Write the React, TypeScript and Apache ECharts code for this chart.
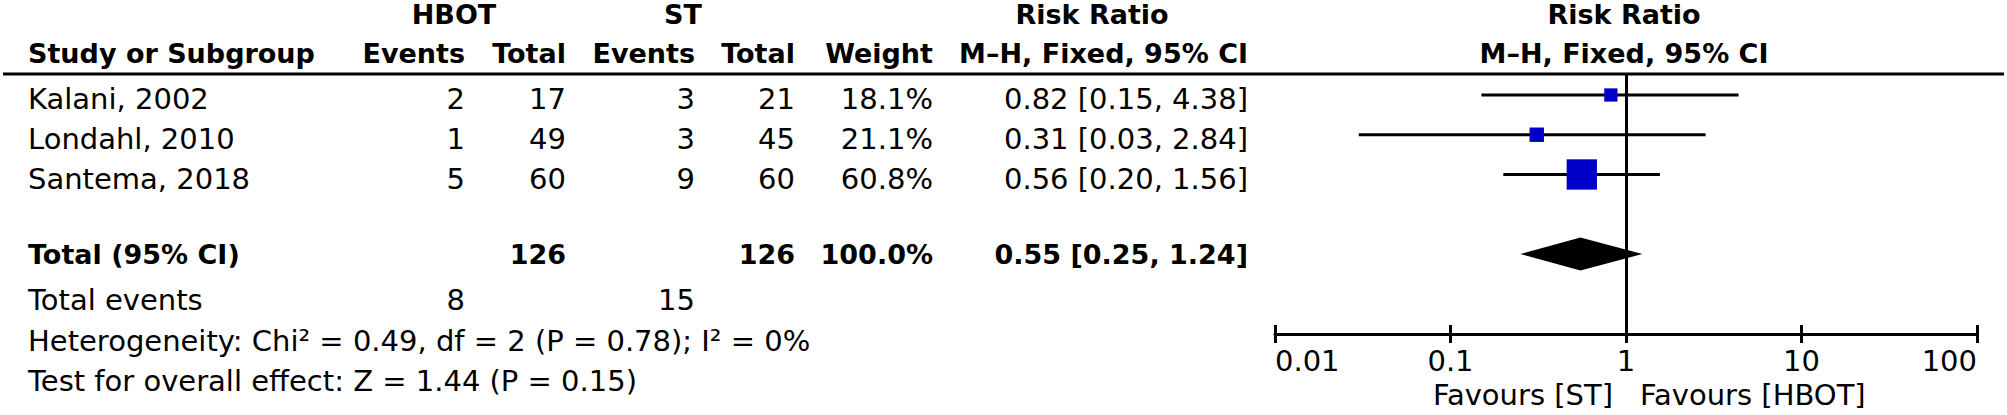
import React, { useEffect, useRef } from 'react';
import * as echarts from 'echarts';

// ---------- data ----------
const studies = ['Kalani, 2002', 'Londahl, 2010', 'Santema, 2018'];
const hbotEvents = [2, 1, 5];
const hbotTotals = [17, 49, 60];
const stEvents = [3, 3, 9];
const stTotals = [21, 45, 60];
const weights = [18.1, 21.1, 60.8];
const riskRatios = [0.82, 0.31, 0.56];
const ciLower = [0.15, 0.03, 0.2];
const ciUpper = [4.38, 2.84, 1.56];

const totalLabel = 'Total (95% CI)';
const pooled = [0.55, 0.25, 1.24]; // RR, lower, upper
const totalHbot = 126;
const totalSt = 126;
const totalWeight = 100.0;
const totalEventsLabel = 'Total events';
const totalEventsHbot = 8;
const totalEventsSt = 15;
const heterogeneityText = 'Heterogeneity: Chi² = 0.49, df = 2 (P = 0.78); I² = 0%';
const overallEffectText = 'Test for overall effect: Z = 1.44 (P = 0.15)';

const tickValues = [0.01, 0.1, 1, 10, 100];
const tickLabels = ['0.01', '0.1', '1', '10', '100'];
const favoursLeft = 'Favours [ST]';
const favoursRight = 'Favours [HBOT]';

// ---------- layout / style ----------
const FONT = '"DejaVu Sans", Verdana, sans-serif';
const REG = `29px ${FONT}`;
const BOLD = `bold 27px ${FONT}`;
const COL = { name: 28, hbotEv: 465, hbotTot: 566, stEv: 695, stTot: 795, weight: 933, ci: 1248 };
const ROW_Y = [99, 139, 179];
const Y = { h1: 14, h2: 53, total: 254, events: 300, het: 341, test: 381, favours: 395 };
const SQUARE = '#0000c8';

const fmt2 = (v: number) => v.toFixed(2);
const ciText = (r: number, l: number, u: number) => `${fmt2(r)} [${fmt2(l)}, ${fmt2(u)}]`;

function txt(text: string, x: number, y: number, align: string, bold = false) {
  return {
    type: 'text',
    x,
    y,
    silent: true,
    style: {
      text,
      font: bold ? BOLD : REG,
      fill: '#000',
      textAlign: align,
      textVerticalAlign: 'middle',
    },
  };
}

export default function App() {
  const ref = useRef<HTMLDivElement>(null);

  useEffect(() => {
    if (!ref.current) return;
    const chart = echarts.init(ref.current, undefined, { renderer: 'svg' });

    const texts: any[] = [];
    // headers
    texts.push(txt('HBOT', 454, Y.h1, 'center', true));
    texts.push(txt('ST', 683, Y.h1, 'center', true));
    texts.push(txt('Risk Ratio', 1092, Y.h1, 'center', true));
    texts.push(txt('Risk Ratio', 1624, Y.h1, 'center', true));
    texts.push(txt('Study or Subgroup', COL.name, Y.h2, 'left', true));
    texts.push(txt('Events', COL.hbotEv, Y.h2, 'right', true));
    texts.push(txt('Total', COL.hbotTot, Y.h2, 'right', true));
    texts.push(txt('Events', COL.stEv, Y.h2, 'right', true));
    texts.push(txt('Total', COL.stTot, Y.h2, 'right', true));
    texts.push(txt('Weight', COL.weight, Y.h2, 'right', true));
    texts.push(txt('M–H, Fixed, 95% CI', COL.ci, Y.h2, 'right', true));
    texts.push(txt('M–H, Fixed, 95% CI', 1624, Y.h2, 'center', true));

    // study rows
    studies.forEach((s, i) => {
      const y = ROW_Y[i];
      texts.push(txt(s, COL.name, y, 'left'));
      texts.push(txt(String(hbotEvents[i]), COL.hbotEv, y, 'right'));
      texts.push(txt(String(hbotTotals[i]), COL.hbotTot, y, 'right'));
      texts.push(txt(String(stEvents[i]), COL.stEv, y, 'right'));
      texts.push(txt(String(stTotals[i]), COL.stTot, y, 'right'));
      texts.push(txt(`${weights[i].toFixed(1)}%`, COL.weight, y, 'right'));
      texts.push(txt(ciText(riskRatios[i], ciLower[i], ciUpper[i]), COL.ci, y, 'right'));
    });

    // total rows
    texts.push(txt(totalLabel, COL.name, Y.total, 'left', true));
    texts.push(txt(String(totalHbot), COL.hbotTot, Y.total, 'right', true));
    texts.push(txt(String(totalSt), COL.stTot, Y.total, 'right', true));
    texts.push(txt(`${totalWeight.toFixed(1)}%`, COL.weight, Y.total, 'right', true));
    texts.push(txt(ciText(pooled[0], pooled[1], pooled[2]), COL.ci, Y.total, 'right', true));
    texts.push(txt(totalEventsLabel, COL.name, Y.events, 'left'));
    texts.push(txt(String(totalEventsHbot), COL.hbotEv, Y.events, 'right'));
    texts.push(txt(String(totalEventsSt), COL.stEv, Y.events, 'right'));
    texts.push(txt(heterogeneityText, COL.name, Y.het, 'left'));
    texts.push(txt(overallEffectText, COL.name, Y.test, 'left'));

    // favours labels
    texts.push(txt(favoursLeft, 1613, Y.favours, 'right'));
    texts.push(txt(favoursRight, 1640, Y.favours, 'left'));

    // header rule
    texts.push({
      type: 'line',
      silent: true,
      shape: { x1: 3, y1: 74, x2: 2004, y2: 74 },
      style: { stroke: '#000', lineWidth: 3 },
    });

    const labelFor = (v: number) => {
      let best = 0;
      tickValues.forEach((t, i) => {
        if (Math.abs(Math.log10(t) - Math.log10(v)) < Math.abs(Math.log10(tickValues[best]) - Math.log10(v))) best = i;
      });
      return tickLabels[best];
    };

    const studyData = studies.map((_, i) => [riskRatios[i], i, ciLower[i], ciUpper[i], weights[i]]);
    const pooledRow = 4;

    const option: any = {
      animation: false,
      backgroundColor: '#fff',
      grid: { left: 1275, right: 30, top: 73, bottom: 81, containLabel: false },
      xAxis: [
        {
          type: 'log',
          logBase: 10,
          min: 0.01,
          max: 100,
          position: 'bottom',
          axisLine: { show: true, onZero: false, lineStyle: { color: '#000', width: 3 } },
          axisTick: { show: true, length: 9, lineStyle: { color: '#000', width: 3 } },
          axisLabel: {
            show: true,
            color: '#000',
            fontSize: 29,
            fontFamily: FONT,
            margin: 12,
            alignMinLabel: 'left',
            alignMaxLabel: 'right',
            formatter: (v: number) => labelFor(v),
          },
          splitLine: { show: false },
        },
        {
          type: 'log',
          logBase: 10,
          min: 0.01,
          max: 100,
          position: 'bottom',
          offset: 0,
          axisLine: { show: false, onZero: false },
          axisTick: { show: true, inside: true, length: 9, lineStyle: { color: '#000', width: 3 } },
          axisLabel: { show: false },
          splitLine: { show: false },
        },
      ],
      yAxis: {
        type: 'value',
        inverse: true,
        min: -0.553,
        max: 6.013,
        show: false,
        splitLine: { show: false },
      },
      graphic: { elements: texts },
      series: [
        {
          type: 'custom',
          name: 'studies',
          clip: false,
          encode: { x: [0, 2, 3], y: 1 },
          data: studyData,
          renderItem: (_p: any, api: any) => {
            const row = api.value(1);
            const c = api.coord([api.value(0), row]);
            const l = api.coord([api.value(2), row]);
            const h = api.coord([api.value(3), row]);
            const s = 6 + 0.4 * api.value(4);
            return {
              type: 'group',
              children: [
                { type: 'line', shape: { x1: l[0], y1: l[1], x2: h[0], y2: h[1] }, style: { stroke: '#000', lineWidth: 3 } },
                { type: 'rect', shape: { x: c[0] - s / 2, y: c[1] - s / 2, width: s, height: s }, style: { fill: SQUARE } },
              ],
            };
          },
        },
        {
          type: 'custom',
          name: 'pooled',
          clip: false,
          encode: { x: [0, 2, 3], y: 1 },
          data: [[pooled[0], pooledRow, pooled[1], pooled[2]]],
          renderItem: (_p: any, api: any) => {
            const row = api.value(1);
            const c = api.coord([api.value(0), row]);
            const l = api.coord([api.value(2), row]);
            const h = api.coord([api.value(3), row]);
            const hh = 16.5;
            return {
              type: 'polygon',
              shape: { points: [[l[0], c[1]], [c[0], c[1] - hh], [h[0], c[1]], [c[0], c[1] + hh]] },
              style: { fill: '#000' },
            };
          },
          markLine: {
            silent: true,
            symbol: 'none',
            label: { show: false },
            lineStyle: { color: '#000', width: 3, type: 'solid' },
            data: [{ xAxis: 1 }],
          },
        },
      ],
    };

    chart.setOption(option);
    return () => chart.dispose();
  }, []);

  return (
    <div
      ref={ref}
      style={{ position: 'absolute', left: 0, top: 0, width: 2007, height: 415, background: '#fff' }}
    />
  );
}
